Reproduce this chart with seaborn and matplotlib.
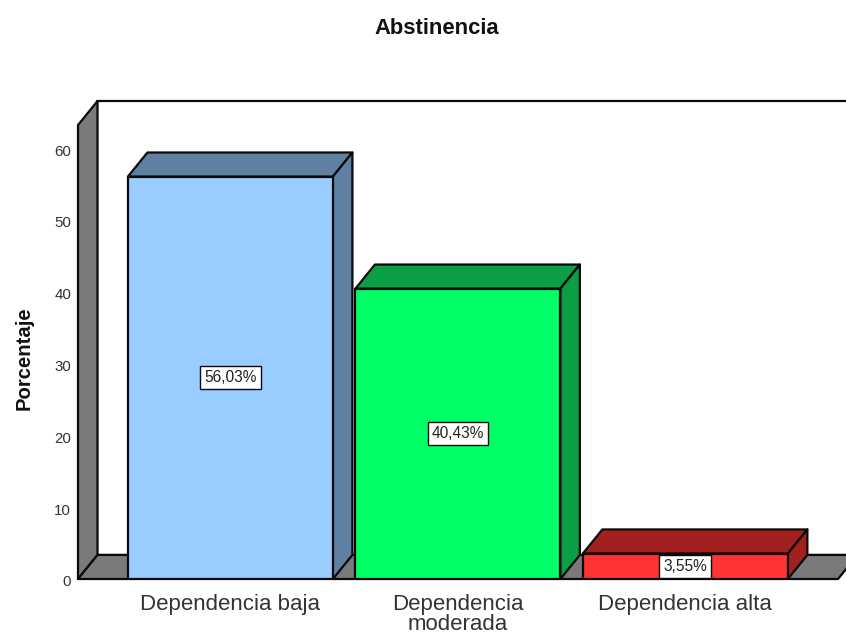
import matplotlib
matplotlib.use("Agg")
import matplotlib.pyplot as plt
from matplotlib.patches import Polygon
from matplotlib.transforms import ScaledTranslation
import pandas as pd
import seaborn as sns

categories = ["Dependencia baja", "Dependencia\nmoderada", "Dependencia alta"]
percentages = [56.03, 40.43, 3.55]
value_labels = ["56,03%", "40,43%", "3,55%"]
y_ticks = [0, 10, 20, 30, 40, 50, 60]
front_colors = ["#99CCFF", "#00FF66", "#FF3333"]
shaded_colors = ["#5F7FA3", "#0A9E45", "#A32020"]

WALL = "#7A7A7A"
EDGE = "#0A0A0A"
DEPTH_X, DEPTH_Y = 0.0857, 3.35   # oblique projection offset, in data units
FRONT_TOP = 63.2

sns.set_theme(style="white")
plt.rcParams["font.family"] = ["Liberation Sans", "DejaVu Sans"]

W, H = 846, 634
fig = plt.figure(figsize=(W / 100, H / 100), dpi=100, facecolor="white")
ax = fig.add_axes([78 / W, (H - 579) / H, (W - 78) / W, (579 - 101) / H])

df = pd.DataFrame({"categoria": categories, "porcentaje": percentages})
sns.barplot(data=df, x="categoria", y="porcentaje", hue="categoria",
            palette=front_colors, hue_order=categories, dodge=False,
            width=0.901, legend=False, edgecolor=EDGE, linewidth=1.6,
            saturation=1, zorder=4, ax=ax)

ax.set_xlim(-0.670, 2.706)
ax.set_ylim(0, FRONT_TOP + DEPTH_Y)


def face(points, color, z):
    ax.add_patch(Polygon(points, closed=True, facecolor=color, edgecolor=EDGE,
                         linewidth=1.6, joinstyle="round", zorder=z,
                         clip_on=False))


# Back wall, side wall and floor of the chart box
x0, x1 = ax.get_xlim()
floor_end = 2.671
face([(x0 + DEPTH_X, DEPTH_Y), (x0 + DEPTH_X, FRONT_TOP + DEPTH_Y),
      (x1 + 1, FRONT_TOP + DEPTH_Y), (x1 + 1, DEPTH_Y)], "white", 1)
face([(x0, 0), (x0 + DEPTH_X, DEPTH_Y), (x0 + DEPTH_X, FRONT_TOP + DEPTH_Y),
      (x0, FRONT_TOP)], WALL, 2)
face([(x0, 0), (x0 + DEPTH_X, DEPTH_Y), (floor_end + DEPTH_X, DEPTH_Y),
      (floor_end, 0)], WALL, 2)

# Top and side faces of each bar, derived from the drawn bar rectangles
for bar, shade in zip(ax.patches[:3], shaded_colors):
    left, right, height = bar.get_x(), bar.get_x() + bar.get_width(), bar.get_height()
    face([(left, height), (left + DEPTH_X, height + DEPTH_Y),
          (right + DEPTH_X, height + DEPTH_Y), (right, height)], shade, 3)
    face([(right, 0), (right + DEPTH_X, DEPTH_Y),
          (right + DEPTH_X, height + DEPTH_Y), (right, height)], shade, 3)

# Boxed value labels at mid-height of each bar
for i, (value, label) in enumerate(zip(percentages, value_labels)):
    ax.text(i, value / 2, label, ha="center", va="center", fontsize=11.2,
            color="#222222", zorder=6,
            bbox=dict(boxstyle="square,pad=0.26", facecolor="white",
                      edgecolor=EDGE, linewidth=1.0))

for spine in ax.spines.values():
    spine.set_visible(False)

ax.set_yticks(y_ticks)
ax.set_yticklabels([str(t) for t in y_ticks], fontsize=10.8, color="#333333")
ax.tick_params(axis="y", length=0, pad=5)
ax.tick_params(axis="x", length=0, pad=10.5, labelsize=16, labelcolor="#333333")
for t in ax.get_xticklabels():
    t.set_linespacing(0.95)
# Nudge the value-axis labels slightly below their tick positions
offset = ScaledTranslation(0, -2 / 100, fig.dpi_scale_trans)
for t in ax.get_yticklabels():
    t.set_transform(t.get_transform() + offset)
ax.set_xlabel("")
ax.set_ylabel("")

fig.text(437 / W, 1 - 28 / H, "Abstinencia", ha="center", va="center",
         fontsize=15.8, fontweight="bold", color="#111111")
fig.text(24 / W, 1 - 358 / H, "Porcentaje", ha="center", va="center",
         rotation=90, fontsize=14.6, fontweight="bold", color="#111111")

fig.savefig("out.png", dpi=100, facecolor="white")
